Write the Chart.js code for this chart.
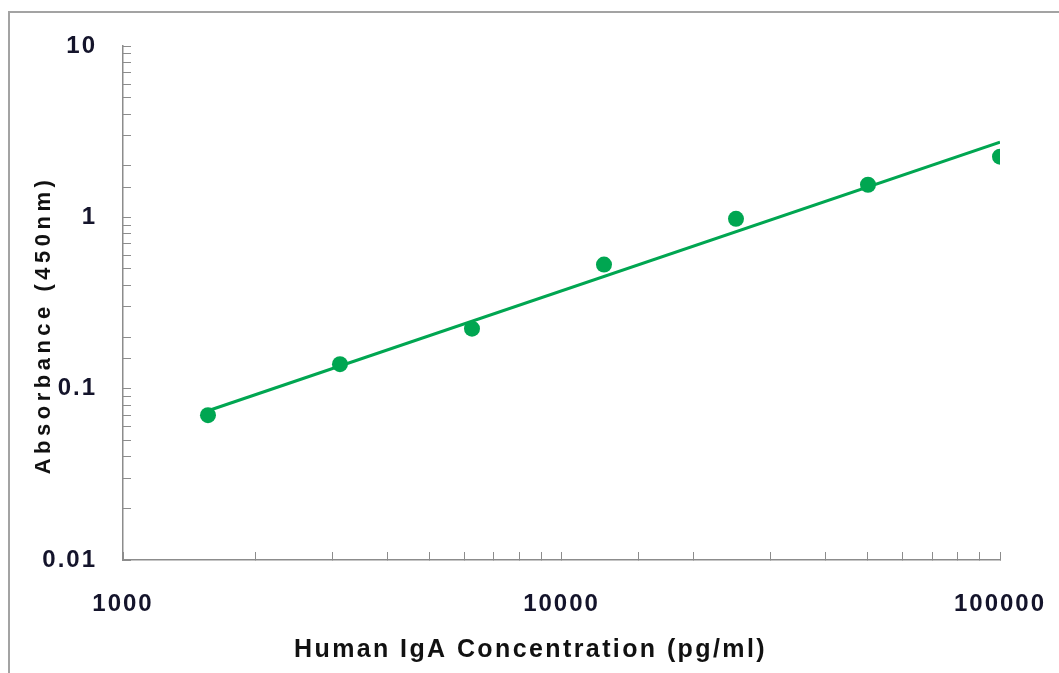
<!DOCTYPE html>
<html lang="en">
<head>
    <meta charset="UTF-8">
    <title>Human IgA standard curve</title>
    <style>
        html, body {
            margin: 0;
            padding: 0;
            background: #ffffff;
            overflow: hidden;
        }
        .wrap {
            position: relative;
            width: 1059px;
            height: 673px;
        }
        .frame {
            position: absolute;
            left: 8px;
            top: 11px;
            width: 1200px;
            height: 800px;
            border: 2px solid #a3a3a3;
            pointer-events: none;
        }
    </style>
    <script src="https://cdn.jsdelivr.net/npm/chart.js"></script>
</head>
<body>
    <div class="wrap">
        <canvas id="curve" width="1059" height="673"></canvas>
        <div class="frame"></div>
    </div>
    <script>
        // standard points
        const concentrations = [1562.5, 3125, 6250, 12500, 25000, 50000, 100000]; // pg/ml
        const absorbance = [0.070, 0.139, 0.224, 0.53, 0.98, 1.55, 2.26];

        // fitted line end points
        const fitX = [1562.5, 100000];
        const fitY = [0.0743, 2.745];

        const xTickLabels = [1000, 10000, 100000];
        const yTickLabels = [0.01, 0.1, 1, 10];

        const GREEN = "#00a651";
        const AXIS = "#8c8c8c";
        const INK = "#14142b";
        const FONT = "'Liberation Sans', Arial, sans-serif";

        // canvas letterSpacing per axis part, plus a small shift for the titles
        const textTweaks = {
            id: "textTweaks",
            beforeDraw(chart) {
                const ctx = chart.ctx;
                const wrap = (scale, fn, spacing, dx, dy) => {
                    if (scale["_orig_" + fn]) return;
                    const orig = scale[fn].bind(scale);
                    scale["_orig_" + fn] = orig;
                    scale[fn] = function (...args) {
                        ctx.save();
                        ctx.letterSpacing = spacing + "px";
                        ctx.translate(dx, dy);
                        orig(...args);
                        ctx.restore();
                    };
                };
                wrap(chart.scales.x, "drawLabels", 2, 0, 0);
                wrap(chart.scales.x, "drawTitle", 2.4, -31, 0);
                wrap(chart.scales.y, "drawLabels", 2, 0, 0);
                wrap(chart.scales.y, "drawTitle", 4.5, 0, 22);
            }
        };

        const ctx = document.getElementById("curve").getContext("2d");
        new Chart(ctx, {
            type: "scatter",
            data: {
                datasets: [
                    {
                        label: "Standards",
                        data: concentrations.map((c, i) => ({ x: c, y: absorbance[i] })),
                        backgroundColor: GREEN,
                        borderColor: GREEN,
                        pointRadius: 8,
                        pointBorderWidth: 0,
                        showLine: false,
                    },
                    {
                        label: "Fit",
                        data: fitX.map((c, i) => ({ x: c, y: fitY[i] })),
                        borderColor: GREEN,
                        borderWidth: 3,
                        pointRadius: 0,
                        showLine: true,
                        fill: false,
                    },
                ],
            },
            options: {
                responsive: false,
                animation: false,
                layout: {
                    padding: { left: 0, top: 46, right: 59, bottom: 0 },
                },
                plugins: {
                    legend: { display: false },
                    tooltip: { enabled: false },
                },
                scales: {
                    x: {
                        type: "logarithmic",
                        min: 1000,
                        max: 100000,
                        afterFit: (s) => {
                            s.height = 113;
                            s.paddingLeft = 0;
                            s.paddingRight = 0;
                        },
                        border: { color: AXIS, width: 1.5 },
                        grid: {
                            drawOnChartArea: false,
                            drawTicks: true,
                            tickLength: -8,
                            color: AXIS,
                            lineWidth: 1,
                        },
                        ticks: {
                            autoSkip: false,
                            maxRotation: 0,
                            padding: 38,
                            color: INK,
                            font: { family: FONT, size: 24, weight: "bold" },
                            callback: (v) => (xTickLabels.includes(v) ? String(v) : ""),
                        },
                        title: {
                            display: true,
                            text: "Human IgA Concentration (pg/ml)",
                            color: "#111111",
                            font: { family: FONT, size: 25, weight: "bold" },
                            padding: { top: 0, bottom: 8 },
                        },
                    },
                    y: {
                        type: "logarithmic",
                        min: 0.01,
                        max: 10,
                        afterFit: (s) => {
                            s.width = 123;
                            s.paddingTop = 0;
                            s.paddingBottom = 0;
                        },
                        border: { color: AXIS, width: 1.5 },
                        grid: {
                            drawOnChartArea: false,
                            drawTicks: true,
                            tickLength: -8,
                            color: AXIS,
                            lineWidth: 1,
                        },
                        ticks: {
                            autoSkip: false,
                            padding: 34,
                            color: INK,
                            font: { family: FONT, size: 24, weight: "bold" },
                            callback: (v) => (yTickLabels.includes(v) ? String(v) : ""),
                        },
                        title: {
                            display: true,
                            text: "Absorbance (450nm)",
                            color: "#111111",
                            font: { family: FONT, size: 22, weight: "bold" },
                            padding: { top: 31, bottom: 0 },
                        },
                    },
                },
            },
            plugins: [textTweaks],
        });
    </script>
</body>
</html>
